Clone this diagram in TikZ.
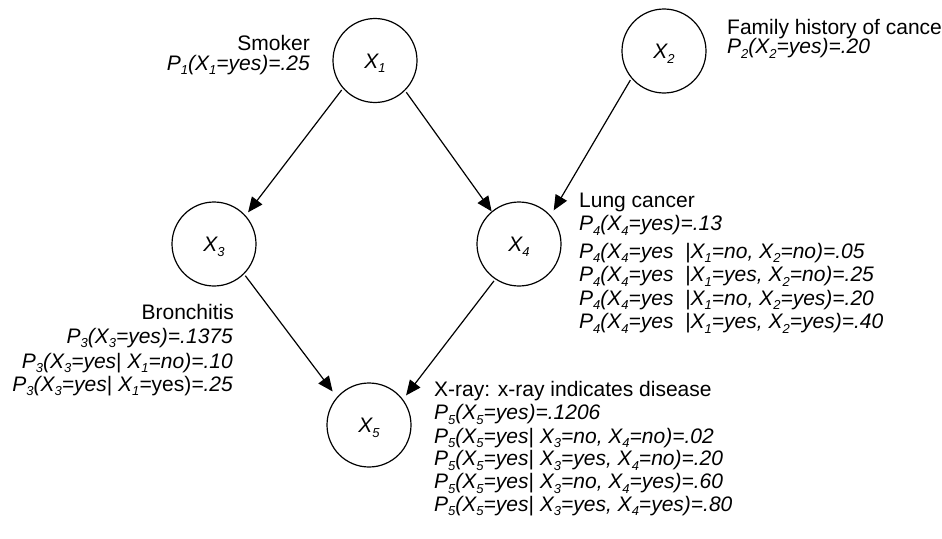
\documentclass[tikz,border=0pt]{standalone}
\usepackage{fontspec}
\setmainfont{Liberation Sans}
\usetikzlibrary{arrows.meta}
\newcommand\sbs[1]{\raisebox{-4.5pt}{\fontsize{13}{13}\selectfont #1}}
\newcommand\vbar{\textup{|}}
\begin{document}
\begin{tikzpicture}[x=1pt,y=-1pt,
  circ/.style={circle,draw,line width=1.2pt,minimum size=84pt,inner sep=0pt,
    font=\fontsize{21}{21}\selectfont\itshape,text height=15pt,text depth=0pt},
  lbl/.style={inner sep=0pt,font=\fontsize{21}{23}\selectfont},
  plbl/.style={inner sep=0pt,font=\fontsize{21}{23}\selectfont\itshape},
  conn/.style={line width=1.2pt,-{Triangle[length=15pt,width=13pt]},shorten <=2pt}]
\useasboundingbox (0,0) rectangle (942,538);
\clip (0,0) rectangle (942,538);
\fill[white] (0,0) rectangle (942,538);

% variable nodes
\node[circ] (X1) at (375,60.5) {X\sbs{1}};
\node[circ] (X2) at (664,51) {X\sbs{2}};
\node[circ] (X3) at (214,244) {X\sbs{3}};
\node[circ] (X4) at (519,244) {X\sbs{4}};
\node[circ] (X5) at (369,425) {X\sbs{5}};

% connectors
\draw[conn,shorten >=4pt] (X1.221) -- (X3.42);
\draw[conn] (X1.-45) -- (X4.130);
\draw[conn,shorten >=6pt] (X2.220) -- (X4.42);
\draw[conn,shorten >=7pt] (X3.-45) -- (X5.139);
\draw[conn,shorten >=5pt] (X4.-124) -- (X5.37);

% Smoker
\node[lbl,anchor=base east] (smk) at (310,50) {Smoker};
\node[plbl,anchor=base east] (p1) at (310,70) {P\sbs{1}(X\sbs{1}=yes)=.25};

% Family history
\node[lbl,anchor=base west] (fam) at (727,34) {Family history of cancer};
\node[plbl,anchor=base west] (p2) at (727,53.5) {P\sbs{2}(X\sbs{2}=yes)=.20};

% Lung cancer
\node[lbl,anchor=base west] (lung) at (579,207) {Lung cancer};
\node[plbl,anchor=base west] (p4a) at (579,230.5) {P\sbs{4}(X\sbs{4}=yes)=.13};
\node[plbl,anchor=base west] (p4b) at (579,258) {P\sbs{4}(X\sbs{4}=yes\ \ \vbar X\sbs{1}=no, X\sbs{2}=no)=.05};
\node[plbl,anchor=base west] (p4c) at (579,281.5) {P\sbs{4}(X\sbs{4}=yes\ \ \vbar X\sbs{1}=yes, X\sbs{2}=no)=.25};
\node[plbl,anchor=base west] (p4d) at (579,305) {P\sbs{4}(X\sbs{4}=yes\ \ \vbar X\sbs{1}=no, X\sbs{2}=yes)=.20};
\node[plbl,anchor=base west] (p4e) at (579,328.5) {P\sbs{4}(X\sbs{4}=yes\ \ \vbar X\sbs{1}=yes, X\sbs{2}=yes)=.40};

% Bronchitis
\node[lbl,anchor=base east] (bron) at (234,319) {Bronchitis};
\node[plbl,anchor=base east] (p3a) at (233,343) {P\sbs{3}(X\sbs{3}=yes)=.1375};
\node[plbl,anchor=base east] (p3b) at (233,368) {P\sbs{3}(X\sbs{3}=yes\vbar\ X\sbs{1}=no)=.10};
\node[plbl,anchor=base east] (p3c) at (233,391) {P\sbs{3}(X\sbs{3}=yes\vbar\ X\sbs{1}=\textup{yes)}=.25};

% X-ray
\node[lbl,anchor=base west] (xray) at (434,396.5) {X-ray: x-ray indicates disease};
\node[plbl,anchor=base west] (p5a) at (434,419.5) {P\sbs{5}(X\sbs{5}=yes)=.1206};
\node[plbl,anchor=base west] (p5b) at (434,443) {P\sbs{5}(X\sbs{5}=yes\vbar\ X\sbs{3}=no, X\sbs{4}=no)=.02};
\node[plbl,anchor=base west] (p5c) at (434,465.5) {P\sbs{5}(X\sbs{5}=yes\vbar\ X\sbs{3}=yes, X\sbs{4}=no)=.20};
\node[plbl,anchor=base west] (p5d) at (434,488.5) {P\sbs{5}(X\sbs{5}=yes\vbar\ X\sbs{3}=no, X\sbs{4}=yes)=.60};
\node[plbl,anchor=base west] (p5e) at (434,511) {P\sbs{5}(X\sbs{5}=yes\vbar\ X\sbs{3}=yes, X\sbs{4}=yes)=.80};
\end{tikzpicture}
\end{document}
